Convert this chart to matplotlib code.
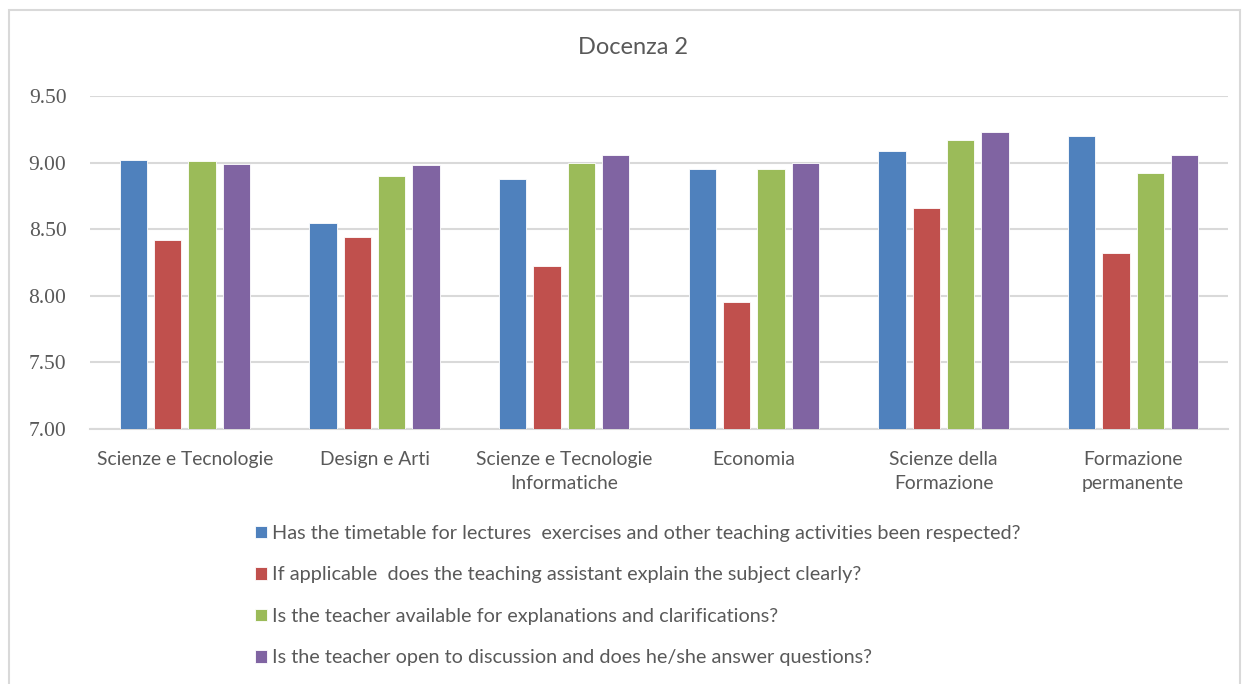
import numpy as np
import matplotlib.pyplot as plt
from matplotlib.patches import Rectangle

categories = ["Scienze e Tecnologie", "Design e Arti", "Scienze e Tecnologie\nInformatiche",
              "Economia", "Scienze della\nFormazione", "Formazione\npermanente"]
series_names = [
    "Has the timetable for lectures  exercises and other teaching activities been respected?",
    "If applicable  does the teaching assistant explain the subject clearly?",
    "Is the teacher available for explanations and clarifications?",
    "Is the teacher open to discussion and does he/she answer questions?",
]
timetable = [9.02, 8.55, 8.88, 8.95, 9.09, 9.20]
assistant = [8.42, 8.44, 8.22, 7.95, 8.66, 8.32]
available = [9.01, 8.90, 9.00, 8.95, 9.17, 8.92]
discussion = [8.99, 8.98, 9.06, 9.00, 9.23, 9.06]
yticks = [7.00, 7.50, 8.00, 8.50, 9.00, 9.50]

colors = ["#4f81bd", "#c0504d", "#9bbb59", "#8064a2"]
txt = "#595959"
grid = "#d9d9d9"

fig = plt.figure(figsize=(12.45, 6.84), dpi=100)
ax = fig.add_axes([90 / 1245, 1 - 429 / 684, 1138 / 1245, 333 / 684])

x = np.arange(len(categories))
step = 0.181
width = 0.1425
bars = []
for i, vals in enumerate([timetable, assistant, available, discussion]):
    b = ax.bar(x + (i - 1.5) * step, vals, width, color=colors[i],
               edgecolor="white", linewidth=0.6, zorder=3, label=series_names[i])
    bars.append(b)

ax.set_xlim(-0.5, len(categories) - 0.5)
ax.set_ylim(7.0, 9.5)
ax.set_yticks(yticks)
ax.set_yticklabels(["%.2f" % v for v in yticks], family="Liberation Serif",
                   fontsize=15.5, color=txt)
ax.set_xticks(x)
ax.set_xticklabels(categories, family="Lato", fontsize=13.9, color=txt,
                   linespacing=1.5)
ax.tick_params(axis="both", length=0)
ax.tick_params(axis="x", pad=15.5)
ax.tick_params(axis="y", pad=17)
ax.yaxis.grid(True, color=grid, linewidth=1.5, zorder=0)
for s in ["top", "right", "left"]:
    ax.spines[s].set_visible(False)
ax.spines["bottom"].set_color(grid)
ax.spines["bottom"].set_linewidth(1.5)

fig.text(633 / 1245, 1 - 47 / 684, "Docenza 2", ha="center", va="center",
         family="Lato", fontsize=17, color=txt)

fig.legend(handles=bars, loc="upper left", bbox_to_anchor=(255 / 1245, 1 - 525 / 684),
           frameon=False, prop={"family": "Lato", "size": 14.3}, labelcolor=txt,
           handlelength=0.6, handleheight=0.6, handletextpad=0.25,
           labelspacing=1.23, borderpad=0, borderaxespad=0)

fig.patches.append(Rectangle((9 / 1245, -0.05), 1231 / 1245, 1.05 - 10 / 684,
                             transform=fig.transFigure, fill=False,
                             edgecolor="#d9d9d9", linewidth=1.5))

fig.savefig("out.png", dpi=100)
